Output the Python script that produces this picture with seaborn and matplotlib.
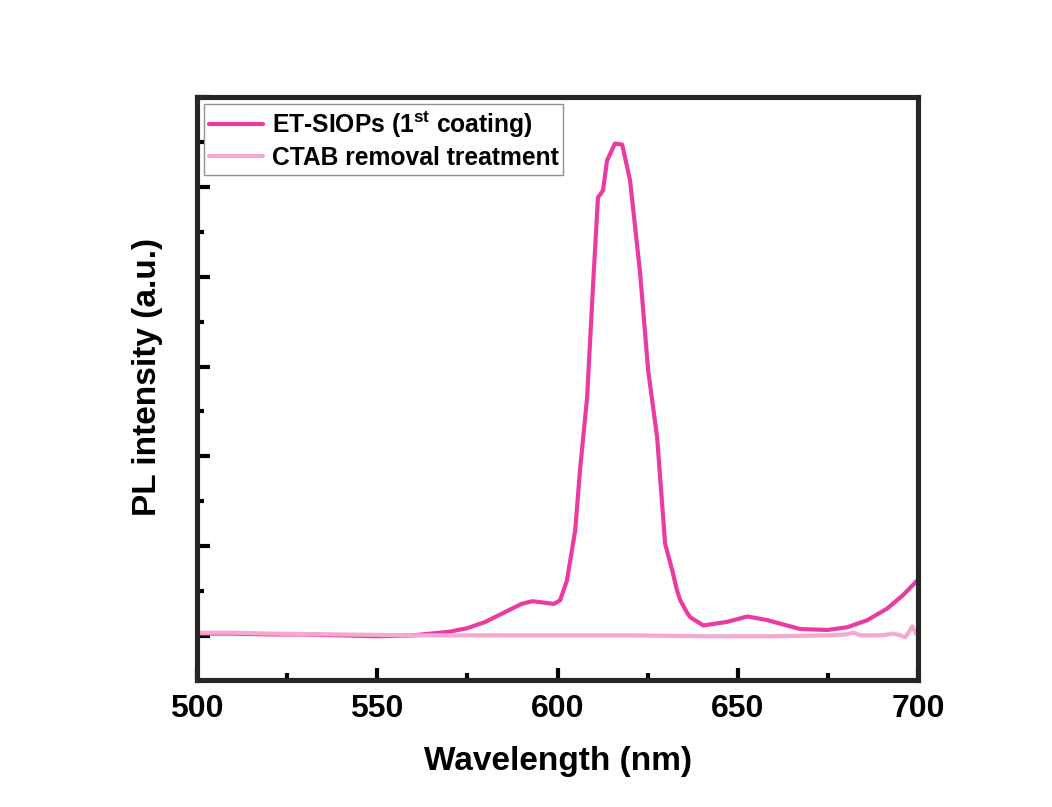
import numpy as np
import pandas as pd
import matplotlib
matplotlib.use("Agg")
import matplotlib.pyplot as plt
import seaborn as sns
from matplotlib.ticker import MultipleLocator

# ET-SIOPs (1st coating) spectrum
et_wl = [500, 510, 520, 530, 540, 550, 560, 565, 570, 575, 580, 585, 590, 593,
         597, 599, 600.7, 602.6, 604.9, 606.2, 608.2, 609.8, 611.2, 612.6, 613.7,
         615.9, 617.9, 620.1, 622.9, 625.1, 627.6, 629.8, 631.8, 633.1, 634.0,
         635.9, 636.8, 640.4, 647.0, 652.6, 658.1, 661.7, 667.3, 674.8, 680.3,
         685.9, 691.4, 695.8, 699.7]
et_int = [0.03, 0.03, 0.02, 0.02, 0.01, 0.00, 0.01, 0.03, 0.05, 0.09, 0.16, 0.26,
          0.36, 0.39, 0.37, 0.36, 0.40, 0.62, 1.18, 1.84, 2.66, 3.88, 4.88, 4.96,
          5.29, 5.48, 5.47, 5.07, 4.03, 2.96, 2.21, 1.03, 0.73, 0.51, 0.40, 0.26,
          0.21, 0.12, 0.16, 0.22, 0.18, 0.14, 0.08, 0.07, 0.10, 0.18, 0.31, 0.46,
          0.62]

# CTAB removal treatment spectrum
ctab_wl = [500, 510, 520, 540, 560, 580, 600, 620, 640, 660, 675, 680, 682, 684,
           690, 693, 695, 696.4, 698.3, 699.3, 700]
ctab_int = [0.04, 0.04, 0.03, 0.02, 0.01, 0.01, 0.01, 0.01, 0.00, 0.00, 0.01,
            0.02, 0.04, 0.01, 0.01, 0.03, 0.01, -0.01, 0.11, 0.03, 0.01]

labels = [r"ET-SIOPs (1$^{\mathbf{st}}$ coating)", "CTAB removal treatment"]
colors = ["#ea3ba3", "#f5a8d3"]

df = pd.concat([
    pd.DataFrame({"wl": et_wl, "pl": et_int, "sample": labels[0]}),
    pd.DataFrame({"wl": ctab_wl, "pl": ctab_int, "sample": labels[1]}),
])

sns.set_style("ticks")
plt.rcParams["font.family"] = ["Liberation Sans", "DejaVu Sans"]
plt.rcParams["font.weight"] = "bold"
plt.rcParams["text.color"] = "black"
plt.rcParams["axes.labelcolor"] = "black"
plt.rcParams["xtick.color"] = "black"
plt.rcParams["ytick.color"] = "black"
plt.rcParams["mathtext.fontset"] = "custom"
plt.rcParams["mathtext.rm"] = "Liberation Sans:bold"
plt.rcParams["mathtext.bf"] = "Liberation Sans:bold"

fig = plt.figure(figsize=(10.52, 8.07), dpi=100)
ax = fig.add_axes([0.187, 0.157, 0.686, 0.723])

sns.lineplot(data=df, x="wl", y="pl", hue="sample", palette=colors,
             linewidth=3, ax=ax, sort=False)

ax.set_xlim(500, 700)
ax.set_ylim(-0.49, 6.0)
ax.xaxis.set_major_locator(MultipleLocator(50))
ax.xaxis.set_minor_locator(MultipleLocator(25))
ax.yaxis.set_major_locator(MultipleLocator(1))
ax.yaxis.set_minor_locator(MultipleLocator(0.5))
ax.tick_params(which="both", direction="in", width=3, top=False, right=False)
ax.tick_params(which="major", length=9)
ax.tick_params(which="minor", length=5)
ax.tick_params(axis="x", labelsize=23, pad=10)
ax.set_yticklabels([])
for lbl in ax.get_xticklabels():
    lbl.set_fontweight("bold")
for s in ax.spines.values():
    s.set_linewidth(3.7)
    s.set_visible(True)

ax.set_xlabel("Wavelength (nm)", fontsize=24, fontweight="bold", labelpad=16)
ax.set_ylabel("PL intensity (a.u.)", fontsize=24, fontweight="bold", labelpad=21)
ax.yaxis.label.set_y(0.52)

leg = ax.legend(loc="upper left", fontsize=17.7, frameon=True, fancybox=False,
                handlelength=2.2, handletextpad=0.35, borderaxespad=0.3,
                borderpad=0.2, labelspacing=0.25)
leg.get_frame().set_edgecolor("#777777")
leg.get_frame().set_linewidth(1)
for t in leg.get_texts():
    t.set_fontweight("bold")
    t.set_color("black")
for h in leg.get_lines():
    h.set_linewidth(3)

fig.savefig("out.png", dpi=100, facecolor="white")
